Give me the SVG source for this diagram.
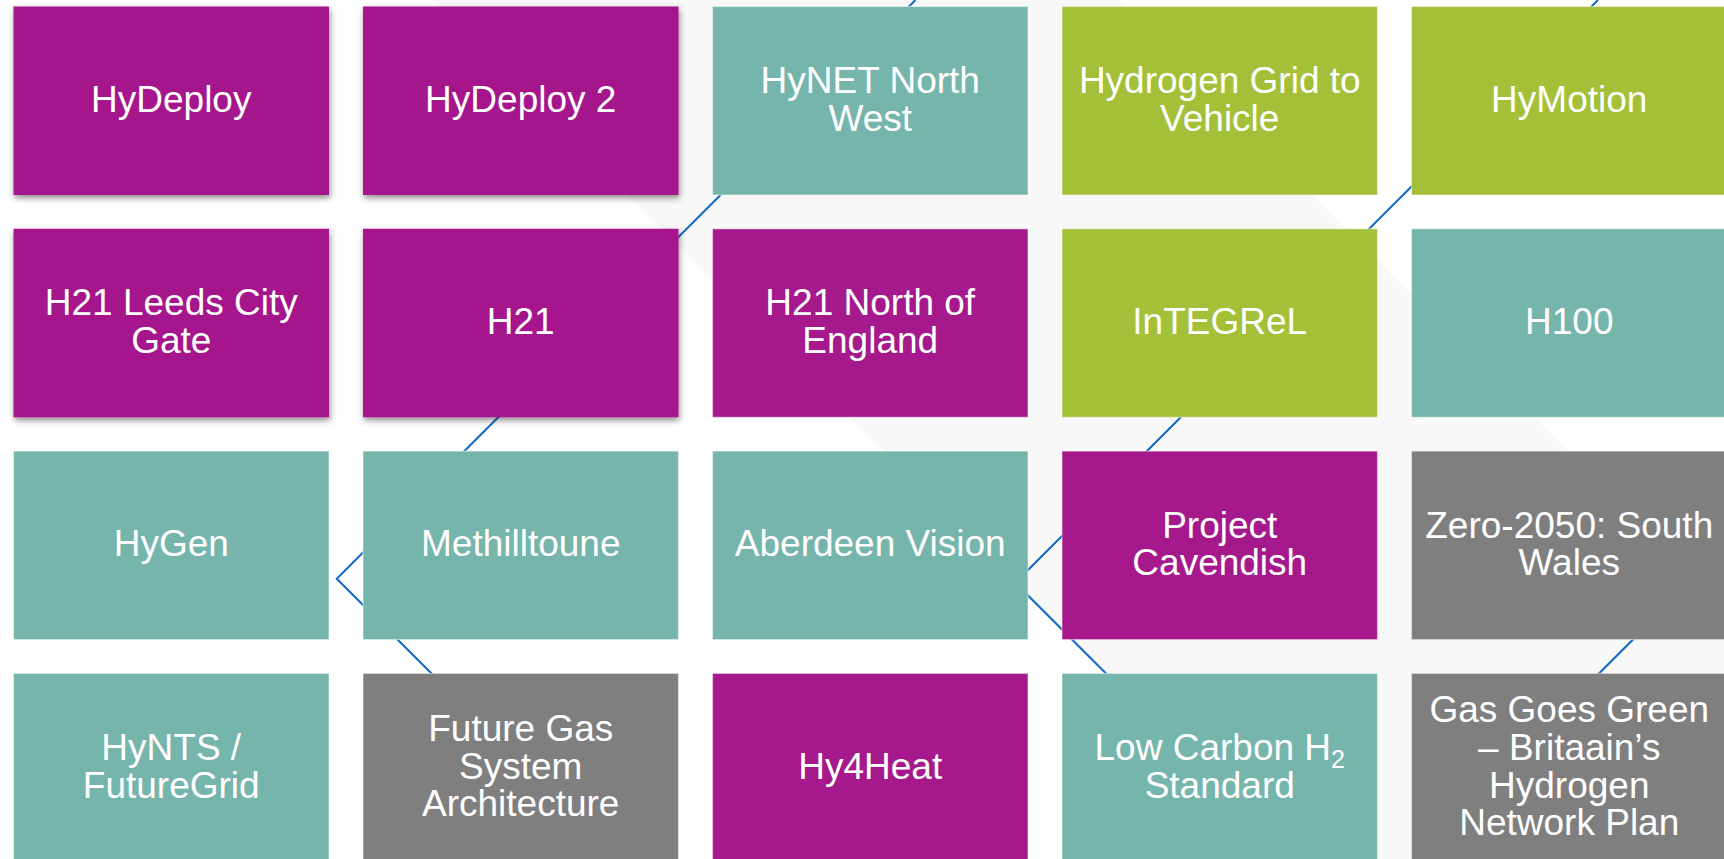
<svg xmlns="http://www.w3.org/2000/svg" width="1724" height="859" viewBox="0 0 1724 859">
  <defs>
    <style>
      .box { stroke: #ffffff; stroke-opacity: 0.45; stroke-width: 1.2; }
      .purple { fill: #a5198c; }
      .teal { fill: #76b5ac; }
      .green { fill: #a3c038; }
      .grey { fill: #7f7f7f; }
      .lbl { font-family: "Liberation Sans", Arial, sans-serif; font-size: 37px; fill: #ffffff; text-anchor: middle; }
      .sub { font-size: 25px; }
      .link { fill: none; stroke: #1068c6; stroke-width: 2; stroke-linejoin: miter; }
    </style>
    <filter id="shadow" x="-5%" y="-5%" width="112%" height="115%">
      <feDropShadow dx="1" dy="3" stdDeviation="3" flood-color="#000000" flood-opacity="0.45"/>
    </filter>
  </defs>

  <!-- page background with a faint diagonal band -->
  <rect x="0" y="0" width="1724" height="859" fill="#ffffff"/>
  <polygon points="433,0 1118,0 1977,859 1292,859" fill="#f8f8f8"/>

  <!-- connecting lines (run behind the tiles) -->
  <g id="connectors">
    <polyline class="link" points="915.5,0 336.75,578.75 617,859"/>
    <polyline class="link" points="1598,0 1015.25,582.75 1291.5,859"/>
    <line class="link" x1="1724" y1="548.5" x2="1413.5" y2="859"/>
  </g>

  <!-- row 1 -->
  <g id="hydeploy">
    <rect class="purple" filter="url(#shadow)" x="13.5" y="6.5" width="315.5" height="188.5"/>
    <text class="lbl" x="171.25" y="111.75">HyDeploy</text>
  </g>
  <g id="hydeploy-2">
    <rect class="purple" filter="url(#shadow)" x="363" y="6.5" width="315.5" height="188.5"/>
    <text class="lbl" x="520.75" y="111.75">HyDeploy 2</text>
  </g>
  <g id="hynet-north-west">
    <rect class="box teal" x="712.5" y="6.5" width="315.5" height="188.5"/>
    <text class="lbl" x="870.25" y="92.9">HyNET North<tspan x="870.25" dy="37.7">West</tspan></text>
  </g>
  <g id="hydrogen-grid-to-vehicle">
    <rect class="box green" x="1062" y="6.5" width="315.5" height="188.5"/>
    <text class="lbl" x="1219.75" y="92.9">Hydrogen Grid to<tspan x="1219.75" dy="37.7">Vehicle</tspan></text>
  </g>
  <g id="hymotion">
    <rect class="box green" x="1411.5" y="6.5" width="315.5" height="188.5"/>
    <text class="lbl" x="1569.25" y="111.75">HyMotion</text>
  </g>

  <!-- row 2 -->
  <g id="h21-leeds-city-gate">
    <rect class="purple" filter="url(#shadow)" x="13.5" y="228.8" width="315.5" height="188.5"/>
    <text class="lbl" x="171.25" y="315.2">H21 Leeds City<tspan x="171.25" dy="37.7">Gate</tspan></text>
  </g>
  <g id="h21">
    <rect class="purple" filter="url(#shadow)" x="363" y="228.8" width="315.5" height="188.5"/>
    <text class="lbl" x="520.75" y="334">H21</text>
  </g>
  <g id="h21-north-of-england">
    <rect class="box purple" x="712.5" y="228.8" width="315.5" height="188.5"/>
    <text class="lbl" x="870.25" y="315.2">H21 North of<tspan x="870.25" dy="37.7">England</tspan></text>
  </g>
  <g id="integrel">
    <rect class="box green" x="1062" y="228.8" width="315.5" height="188.5"/>
    <text class="lbl" x="1219.75" y="334">InTEGReL</text>
  </g>
  <g id="h100">
    <rect class="box teal" x="1411.5" y="228.8" width="315.5" height="188.5"/>
    <text class="lbl" x="1569.25" y="334">H100</text>
  </g>

  <!-- row 3 -->
  <g id="hygen">
    <rect class="box teal" x="13.5" y="451.1" width="315.5" height="188.5"/>
    <text class="lbl" x="171.25" y="556.35">HyGen</text>
  </g>
  <g id="methilltoune">
    <rect class="box teal" x="363" y="451.1" width="315.5" height="188.5"/>
    <text class="lbl" x="520.75" y="556.35">Methilltoune</text>
  </g>
  <g id="aberdeen-vision">
    <rect class="box teal" x="712.5" y="451.1" width="315.5" height="188.5"/>
    <text class="lbl" x="870.25" y="556.35">Aberdeen Vision</text>
  </g>
  <g id="project-cavendish">
    <rect class="box purple" x="1062" y="451.1" width="315.5" height="188.5"/>
    <text class="lbl" x="1219.75" y="537.5">Project<tspan x="1219.75" dy="37.7">Cavendish</tspan></text>
  </g>
  <g id="zero-2050-south-wales">
    <rect class="box grey" x="1411.5" y="451.1" width="315.5" height="188.5"/>
    <text class="lbl" x="1569.25" y="537.5">Zero-2050: South<tspan x="1569.25" dy="37.7">Wales</tspan></text>
  </g>

  <!-- row 4 -->
  <g id="hynts-futuregrid">
    <rect class="box teal" x="13.5" y="673.4" width="315.5" height="188.5"/>
    <text class="lbl" x="171.25" y="759.8">HyNTS /<tspan x="171.25" dy="37.7">FutureGrid</tspan></text>
  </g>
  <g id="future-gas-system-architecture">
    <rect class="box grey" x="363" y="673.4" width="315.5" height="188.5"/>
    <text class="lbl" x="520.75" y="740.95">Future Gas<tspan x="520.75" dy="37.7">System</tspan><tspan x="520.75" dy="37.7">Architecture</tspan></text>
  </g>
  <g id="hy4heat">
    <rect class="box purple" x="712.5" y="673.4" width="315.5" height="188.5"/>
    <text class="lbl" x="870.25" y="778.65">Hy4Heat</text>
  </g>
  <g id="low-carbon-h2-standard">
    <rect class="box teal" x="1062" y="673.4" width="315.5" height="188.5"/>
    <text class="lbl" x="1219.75" y="759.8">Low Carbon H<tspan class="sub" dy="8">2</tspan><tspan x="1219.75" dy="29.7">Standard</tspan></text>
  </g>
  <g id="gas-goes-green">
    <rect class="box grey" x="1411.5" y="673.4" width="315.5" height="188.5"/>
    <text class="lbl" x="1569.25" y="722.1">Gas Goes Green<tspan x="1569.25" dy="37.7">– Britaain’s</tspan><tspan x="1569.25" dy="37.7">Hydrogen</tspan><tspan x="1569.25" dy="37.7">Network Plan</tspan></text>
  </g>
</svg>
